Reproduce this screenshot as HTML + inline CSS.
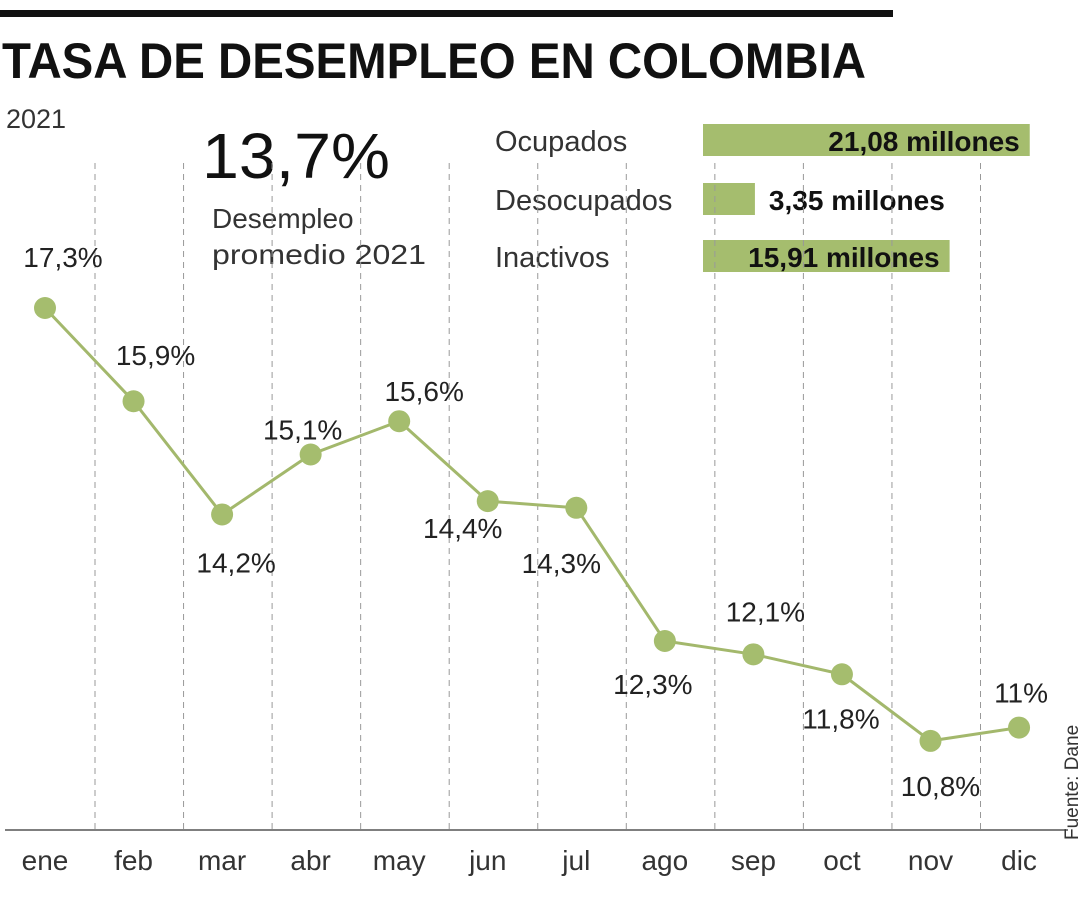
<!DOCTYPE html>
<html><head><meta charset="utf-8"><style>
body{margin:0;background:#fff;}
svg{display:block;font-family:"Liberation Sans",sans-serif;}
</style></head><body>
<svg width="1080" height="900" viewBox="0 0 1080 900">
<rect x="0" y="10" width="893" height="7" fill="#111"/>
<text x="2" y="78" font-size="50" font-weight="bold" textLength="864" lengthAdjust="spacingAndGlyphs" fill="#111">TASA DE DESEMPLEO EN COLOMBIA</text>
<text x="6" y="128" font-size="27" fill="#333">2021</text>
<text x="202" y="178" font-size="64" fill="#111" textLength="188" lengthAdjust="spacingAndGlyphs">13,7%</text>
<text x="212" y="228" font-size="28" fill="#333">Desempleo</text>
<text x="212" y="264" font-size="28" fill="#333" textLength="214" lengthAdjust="spacingAndGlyphs">promedio 2021</text>
<g id="bars"></g>
<g id="grid"></g>
<line x1="5" y1="830" x2="1068" y2="830" stroke="#555" stroke-width="1.5"/>
<g id="xlabels"></g>
<polyline id="line" fill="none" stroke="#a3b86c" stroke-width="3"/>
<g id="points"></g>
<g id="labels"></g>
<text x="1078" y="840" font-size="19" fill="#333" transform="rotate(-90 1078 840)">Fuente: Dane</text>
</svg>
<script>
const months=["ene","feb","mar","abr","may","jun","jul","ago","sep","oct","nov","dic"];
const rates=[17.3,15.9,14.2,15.1,15.6,14.4,14.3,12.3,12.1,11.8,10.8,11.0];
const rateLabels=["17,3%","15,9%","14,2%","15,1%","15,6%","14,4%","14,3%","12,3%","12,1%","11,8%","10,8%","11%"];
const groupNames=["Ocupados","Desocupados","Inactivos"];
const groupValues=[21.08,3.35,15.91];
const groupLabels=["21,08 millones","3,35 millones","15,91 millones"];
const labelOffsets=[[18,-51],[22,-46],[14,48],[-8,-25],[25,-30],[-25,27],[-15,55],[-12,43],[12,-43],[-1,44],[10,45],[2,-35]];
const NS="http://www.w3.org/2000/svg";
const green="#a5bd6e";
function xS(i){return 45+i*88.55;}
function yS(v){return 308+(17.3-v)*66.6;}
function bw(v){return Math.min(v*15.5,377);}
function mk(t,a,p){const e=document.createElementNS(NS,t);for(const k in a)e.setAttribute(k,a[k]);p.appendChild(e);return e;}
const bars=document.getElementById('bars');
groupNames.forEach((n,i)=>{
  const y=[124,183,240][i];
  const t=mk('text',{x:495,y:y+27,'font-size':29,fill:'#333'},bars);t.textContent=n;
  
  
  const w=bw(groupValues[i]);
  const r=mk('rect',{x:703,y:y,width:w,height:32,fill:green},bars);
  
  
  const inside=w>150;
  const v=mk('text',{x:inside?703+w-10:703+w+14,y:y+27,'font-size':28,'font-weight':'bold',fill:'#111','text-anchor':inside?'end':'start'},bars);
  v.textContent=groupLabels[i];
  
  
});
const grid=document.getElementById('grid'),xl=document.getElementById('xlabels'),pts=document.getElementById('points'),lb=document.getElementById('labels');
for(let i=0;i<months.length-1;i++){
  const x=xS(i)+50;
  const l=mk('line',{x1:x,y1:163,x2:x,y2:830,stroke:'#999','stroke-width':1,'stroke-dasharray':'6,5'},grid);
  
  
}
months.forEach((m,i)=>{
  const t=mk('text',{x:xS(i),y:870,'font-size':28,fill:'#333','text-anchor':'middle'},xl);t.textContent=m;
  
  
});
document.getElementById('line').setAttribute('points',rates.map((v,i)=>xS(i)+','+yS(v)).join(' '));
rates.forEach((v,i)=>{
  const c=mk('circle',{cx:xS(i),cy:yS(v),r:11,fill:green},pts);
  
  
  const o=labelOffsets[i];
  const t=mk('text',{x:xS(i)+o[0],y:yS(v)+o[1]+10,'font-size':28,fill:'#222','text-anchor':'middle'},lb);
  t.textContent=rateLabels[i];
  
  
});
</script>
</body></html>
